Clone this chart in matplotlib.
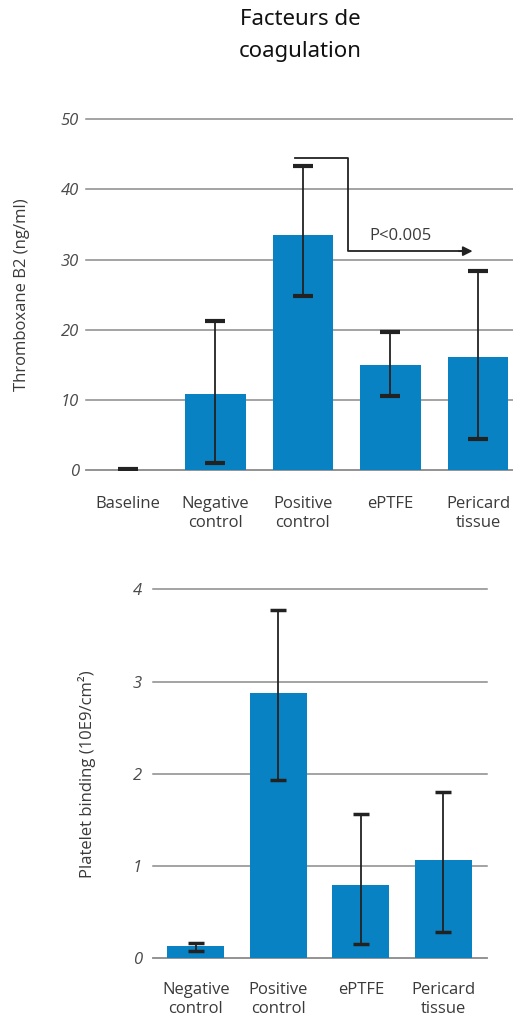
import matplotlib
matplotlib.use("Agg")
import matplotlib.pyplot as plt

# top panel: Thromboxane B2
top_cats = ["Baseline", "Negative\ncontrol", "Positive\ncontrol", "ePTFE", "Pericard\ntissue"]
top_vals = [0.0, 10.8, 33.5, 15.0, 16.1]
top_lo = [0.0, 0.95, 24.8, 10.6, 4.4]
top_hi = [0.2, 21.3, 43.3, 19.6, 28.4]
top_ticks = [0, 10, 20, 30, 40, 50]

# bottom panel: platelet binding
bot_cats = ["Negative\ncontrol", "Positive\ncontrol", "ePTFE", "Pericard\ntissue"]
bot_vals = [0.137, 2.88, 0.795, 1.07]
bot_lo = [0.08, 1.93, 0.16, 0.29]
bot_hi = [0.17, 3.78, 1.56, 1.80]
bot_ticks = [0, 1, 2, 3, 4]

BLUE = "#0882C2"
GRID = "#8a8a8a"
TXT = "#3a3a3a"
FONT = ["Open Sans", "DejaVu Sans"]

fig = plt.figure(figsize=(5.13, 10.23), dpi=100)
fig.text(0.585, 0.991, "Facteurs de\ncoagulation", ha="center", va="top",
         fontsize=16, family=["Noto Sans", "DejaVu Sans"], color="#111111", linespacing=1.65)


def panel(ax, cats, vals, lo, hi, ticks, ylabel, xlim, capsize, capthick, ypad, xpad):
    x = list(range(len(cats)))
    for t in ticks:
        ax.axhline(t, color=GRID, lw=1.3 if t == 0 else 1.1, zorder=1, clip_on=False)
    ax.bar(x, vals, width=0.69, color=BLUE, zorder=2)
    err = [[v - l for v, l in zip(vals, lo)], [h - v for v, h in zip(vals, hi)]]
    ax.errorbar(x, vals, yerr=err, fmt="none", ecolor="#222222", elinewidth=1.3,
                capsize=capsize, capthick=capthick, zorder=3)
    ax.set_xlim(*xlim)
    ax.set_ylim(ticks[0], ticks[-1])
    ax.set_yticks(ticks)
    ax.set_yticklabels([str(t) for t in ticks], fontstyle="italic", color="#4a4a4a",
                       fontsize=12, family=FONT)
    ax.set_xticks(x)
    ax.set_xticklabels(cats, fontsize=12, color=TXT, family=FONT, linespacing=1.25)
    ax.tick_params(axis="both", length=0)
    ax.tick_params(axis="y", pad=ypad)
    ax.tick_params(axis="x", pad=xpad)
    for s in ax.spines.values():
        s.set_visible(False)
    ax.set_ylabel(ylabel, fontsize=12, color=TXT, family=FONT)


ax1 = fig.add_axes([0.1676, 0.5406, 0.8324, 0.3428])
panel(ax1, top_cats, top_vals, top_lo, top_hi, top_ticks, "Thromboxane B2 (ng/ml)",
      (-0.48, 4.4), 7, 3, 5, 19)
ax1.yaxis.set_label_coords(-0.13, 0.5)

# significance bracket
ax1.plot([1.91, 2.51, 2.51, 3.85], [44.5, 44.5, 31.2, 31.2], color="#222222", lw=1.3, zorder=4)
ax1.annotate("", xy=(3.97, 31.2), xytext=(3.75, 31.2),
             arrowprops=dict(arrowstyle="-|>", color="#222222", lw=1.3, mutation_scale=14))
ax1.text(3.12, 33.4, "P<0.005", ha="center", va="center", fontsize=12, color=TXT, family=FONT)

ax2 = fig.add_axes([0.2982, 0.0632, 0.6511, 0.3608])
panel(ax2, bot_cats, bot_vals, bot_lo, bot_hi, bot_ticks, "Platelet binding (10E9/cm²)",
      (-0.52, 3.53), 6, 2.5, 8, 17)
ax2.yaxis.set_label_coords(-0.17, 0.5)

fig.savefig("out.png", dpi=100)
